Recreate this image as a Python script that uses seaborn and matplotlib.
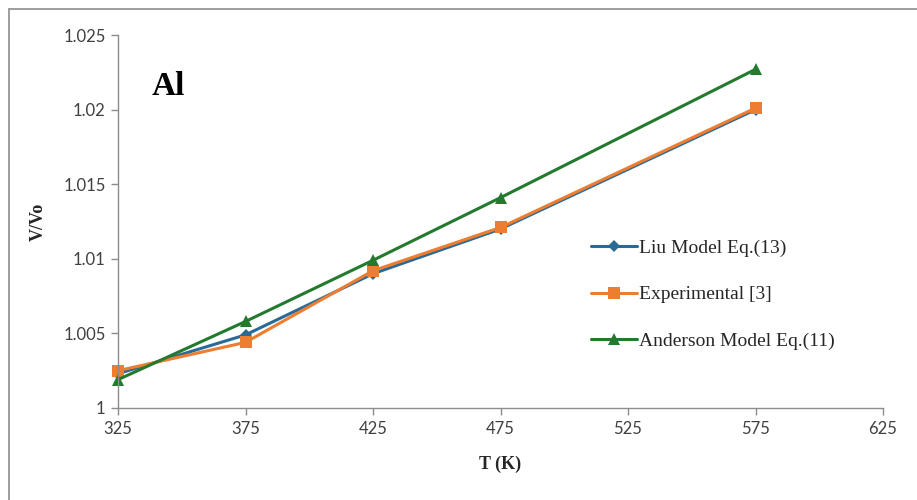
import pandas as pd
import matplotlib.pyplot as plt
import seaborn as sns
from matplotlib.patches import Rectangle

# Data
temps = [325, 375, 425, 475, 575]
liu = [1.0023, 1.0049, 1.0090, 1.0120, 1.0200]
experimental = [1.0025, 1.0044, 1.0092, 1.0121, 1.0201]
anderson = [1.0019, 1.0058, 1.0099, 1.0141, 1.0227]

series_names = ["Liu Model Eq.(13)", "Experimental [3]", "Anderson Model Eq.(11)"]
colors = ["#2A6A96", "#ED7D31", "#237A2E"]
markers = ["D", "s", "^"]
marker_sizes = [6, 8, 9]

df = pd.DataFrame({
    "T": temps * 3,
    "V": liu + experimental + anderson,
    "series": [series_names[0]] * 5 + [series_names[1]] * 5 + [series_names[2]] * 5,
})

sns.set_style("white")
plt.rcParams["font.family"] = ["Lato", "DejaVu Sans"]

fig = plt.figure(figsize=(9.17, 5.0), dpi=100)
ax = fig.add_axes([118 / 917, 92 / 500, 765 / 917, 373 / 500])

for name, c, m, ms in zip(series_names, colors, markers, marker_sizes):
    sub = df[df["series"] == name]
    sns.lineplot(data=sub, x="T", y="V", ax=ax, color=c, linewidth=2.2,
                 marker=m, markersize=ms, markeredgewidth=0, label=name,
                 clip_on=False)

ax.set_xlim(325, 625)
ax.set_ylim(1.0, 1.025)
ax.set_xticks([325, 375, 425, 475, 525, 575, 625])
ax.set_yticks([1.0, 1.005, 1.01, 1.015, 1.02, 1.025])
ax.set_yticklabels(["1", "1.005", "1.01", "1.015", "1.02", "1.025"])
ax.tick_params(axis="both", direction="out", length=5, width=1, color="#8c8c8c",
               labelsize=12, labelcolor="#404040", bottom=True, left=True, pad=4)

for s in ["top", "right"]:
    ax.spines[s].set_visible(False)
for s in ["left", "bottom"]:
    ax.spines[s].set_color("#8c8c8c")
    ax.spines[s].set_linewidth(1)

ax.set_xlabel("T (K)", fontsize=13, fontweight="bold", family="Liberation Serif", color="#262626", labelpad=14)
ax.set_ylabel("V/Vo", fontsize=13, fontweight="bold", family="Liberation Serif", color="#262626", labelpad=12)

ax.text(0.044, 0.84, "Al", transform=ax.transAxes, fontsize=24, fontweight="bold",
        family="Liberation Serif", color="black")

leg = ax.legend(loc="upper left", bbox_to_anchor=(0.595, 0.5), frameon=False,
                labelspacing=1.5, handlelength=2.4, handletextpad=0.1,
                prop={"family": "Liberation Serif", "size": 14})
for t in leg.get_texts():
    t.set_color("#262626")

fig.patches.append(Rectangle((9 / 917, -0.05), 1.1, 1 - 9 / 500 + 0.05,
                             transform=fig.transFigure, fill=False,
                             edgecolor="#8c8c8c", linewidth=1.2))

fig.savefig("out.png", dpi=100)
